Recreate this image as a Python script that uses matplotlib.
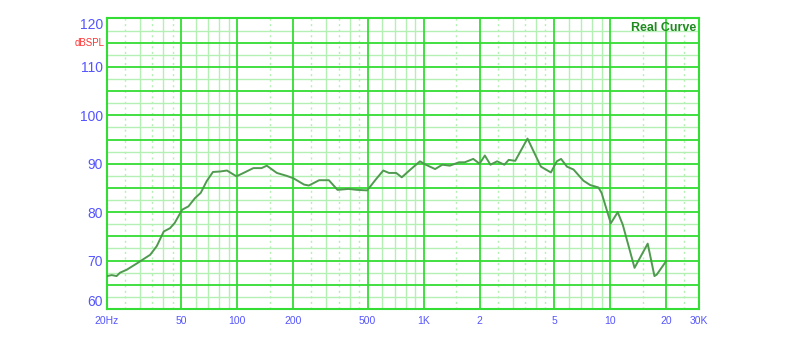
import numpy as np
import matplotlib
matplotlib.use('Agg')
import matplotlib.pyplot as plt

# frequency response
freq = [20, 21.2, 22.5, 23.5, 25.5, 28.9, 31.1, 34.1, 37.0, 40.3, 43.6, 46.2,
        50.6, 54.7, 59.3, 63.7, 68.5, 74, 81, 88, 99, 108, 122, 135, 144, 163,
        184, 200, 228, 242, 275, 310, 345, 395, 440, 498, 552, 607, 651, 712,
        763, 849, 955, 1026, 1152, 1259, 1381, 1547, 1660, 1845, 1994, 2129,
        2281, 2476, 2710, 2858, 3099, 3606, 4255, 4814, 5178, 5459, 5870, 6370,
        7196, 7820, 8660, 9000, 10090, 10990, 11700, 13530, 15920, 17300,
        17800, 20000]
spl = [66.8, 67.0, 66.8, 67.5, 68.1, 69.4, 70.2, 71.2, 73.0, 76.0, 76.7, 77.8,
       80.5, 81.2, 82.9, 84.0, 86.4, 88.3, 88.4, 88.6, 87.4, 88.1, 89.1, 89.1,
       89.6, 88.1, 87.5, 87.0, 85.7, 85.5, 86.6, 86.6, 84.6, 84.8, 84.6, 84.5,
       86.7, 88.6, 88.1, 88.1, 87.2, 88.8, 90.5, 89.8, 88.9, 89.8, 89.6, 90.3,
       90.3, 91.0, 90.0, 91.7, 89.8, 90.5, 89.8, 90.8, 90.6, 95.2, 89.4, 88.2,
       90.5, 91.0, 89.4, 88.8, 86.5, 85.6, 85.1, 84.0, 77.7, 80.0, 77.4, 68.5,
       73.5, 66.8, 67.1, 69.9]

xticks = [20, 50, 100, 200, 500, 1000, 2000, 5000, 10000, 20000, 30000]
xlabels = ['20Hz', '50', '100', '200', '500', '1K', '2', '5', '10', '20', '30K']
yticks = [60, 70, 80, 90, 100, 110, 120]

major_col = '#33dd33'
minor_col = '#b4f0b4'
blue = '#5555ff'

plt.rcParams['font.family'] = ['Liberation Sans', 'DejaVu Sans']

fig = plt.figure(figsize=(8, 3.59), dpi=100)
ax = fig.add_axes([0.13375, 0.1393, 0.74, 0.8092])
ax.set_xscale('log')
ax.set_xlim(20, 30000)
ax.set_ylim(60, 120)

# grid
for dec in [10, 100, 1000, 10000]:
    for k in [3, 4, 6, 7, 8, 9]:
        f = k * dec
        if 20 < f < 30000:
            ax.axvline(f, color=minor_col, lw=1.0, zorder=1)
    for k in [1.5, 2.5, 3.5, 4.5]:
        f = k * dec
        if 20 < f < 30000:
            ax.axvline(f, color=minor_col, lw=1.0, ls=(0, (1.5, 2.5)), zorder=1)
    for k in [1, 2, 5]:
        f = k * dec
        if 20 < f < 30000:
            ax.axvline(f, color=major_col, lw=1.3, zorder=2)
for y in np.arange(62.5, 120, 5):
    ax.axhline(y, color=minor_col, lw=1.0, zorder=1)
for y in np.arange(65, 120, 5):
    ax.axhline(y, color=major_col, lw=1.3, zorder=2)

for s in ax.spines.values():
    s.set_color(major_col)
    s.set_linewidth(1.5)

ax.plot(freq, spl, color='#4f9a4f', lw=1.4, zorder=5)

ax.set_xticks(xticks)
ax.set_xticklabels(xlabels)
ax.xaxis.set_minor_locator(matplotlib.ticker.NullLocator())
ax.tick_params(axis='x', length=0, pad=5, labelsize=7.5, labelcolor=blue)

ax.set_yticks(yticks)
ax.tick_params(axis='y', length=0, pad=3, labelsize=10, labelcolor=blue)
labs = ax.get_yticklabels()
labs[0].set_verticalalignment('bottom')
labs[-1].set_verticalalignment('top')

# unit label sits on the 115 line
ax.annotate('dBSPL', xy=(0, 115), xycoords=('axes fraction', 'data'),
            xytext=(-2, 0), textcoords='offset points', ha='right', va='center',
            fontsize=7, color='#ff3333')

ax.text(0.996, 0.988, 'Real Curve', transform=ax.transAxes, ha='right', va='top',
        fontsize=9, fontweight='bold', color='#1f8a1f', zorder=6)

fig.savefig('out.png', dpi=100)
